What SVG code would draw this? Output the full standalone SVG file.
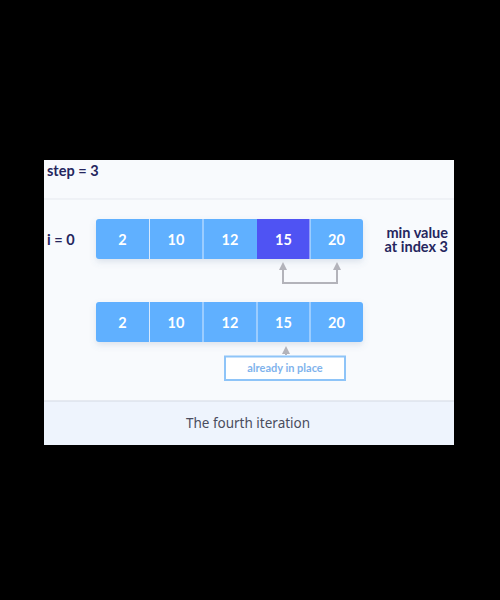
<svg xmlns="http://www.w3.org/2000/svg" width="500" height="600" viewBox="0 0 500 600">
<style>
.lbl{font-family:Lato,"Liberation Sans",sans-serif;font-weight:bold;font-size:14.5px;fill:#25265e}
.num{font-family:Lato,"Liberation Sans",sans-serif;font-weight:bold;font-size:14.5px;fill:#ffffff;text-anchor:middle}
.cell{fill:#60b0ff}
.sep{stroke:#d6e9ff;stroke-width:1}
.con{fill:none;stroke:#b3b3ba;stroke-width:2}
</style>
<defs>
<marker id="ah" viewBox="0 0 10 10" refX="5" refY="5" markerWidth="4" markerHeight="4" orient="auto-start-reverse">
<path d="M0,0 L10,5 L0,10 z" fill="#b3b3ba"/>
</marker>
<filter id="sh" x="-10%" y="-30%" width="120%" height="180%">
<feDropShadow dx="0" dy="3" stdDeviation="3" flood-color="#5a7aa0" flood-opacity="0.18"/>
</filter>
</defs>
<rect x="0" y="0" width="500" height="600" fill="#000000"/>
<rect x="44" y="160" width="410" height="285" fill="#f8fafd"/>
<rect x="44" y="401" width="410" height="44" fill="#eef4fd"/>
<line x1="44" y1="401" x2="454" y2="401" stroke="#d3d9e3" stroke-width="1"/>
<line x1="44" y1="199" x2="454" y2="199" stroke="#e6e9ef" stroke-width="1"/>
<text class="lbl" x="47" y="176">step = 3</text>
<text class="lbl" x="47" y="245">i = 0</text>
<text class="lbl" x="448" y="237.5" text-anchor="end">min value</text>
<text class="lbl" x="448" y="252" text-anchor="end">at index 3</text>
<g id="row1" filter="url(#sh)">
<rect class="cell" x="96" y="219" width="267" height="40" rx="3"/>
<rect x="257" y="219" width="53" height="40" fill="#4f53f3"/>
<line class="sep" x1="149.5" y1="219" x2="149.5" y2="259"/>
<line class="sep" x1="203" y1="219" x2="203" y2="259"/>
<line class="sep" x1="310" y1="219" x2="310" y2="259"/>
</g>
<g id="row1-text">
<text class="num" x="122.5" y="244.5">2</text>
<text class="num" x="176" y="244.5">10</text>
<text class="num" x="230" y="244.5">12</text>
<text class="num" x="283.5" y="244.5">15</text>
<text class="num" x="336.5" y="244.5">20</text>
</g>
<g id="row2" filter="url(#sh)">
<rect class="cell" x="96" y="302" width="267" height="40" rx="3"/>
<line class="sep" x1="149.5" y1="302" x2="149.5" y2="342"/>
<line class="sep" x1="203" y1="302" x2="203" y2="342"/>
<line class="sep" x1="257" y1="302" x2="257" y2="342"/>
<line class="sep" x1="310" y1="302" x2="310" y2="342"/>
</g>
<g id="row2-text">
<text class="num" x="122.5" y="327.5">2</text>
<text class="num" x="176" y="327.5">10</text>
<text class="num" x="230" y="327.5">12</text>
<text class="num" x="283.5" y="327.5">15</text>
<text class="num" x="336.5" y="327.5">20</text>
</g>
<g id="connectors">
<path class="con" d="M283,266 V283 H337 V266" marker-start="url(#ah)" marker-end="url(#ah)"/>
<path class="con" d="M286,355 V350" marker-end="url(#ah)"/>
</g>
<g id="already">
<rect x="225" y="356.5" width="120" height="23.5" fill="#ffffff" stroke="#8ec4f8" stroke-width="2"/>
<text x="285" y="372" text-anchor="middle" font-family="Lato,'Liberation Sans',sans-serif" font-weight="bold" font-size="11px" fill="#7fb3ec">already in place</text>
</g>
<text x="248" y="428" text-anchor="middle" font-family="'Noto Sans',sans-serif" font-size="13.5px" fill="#4a4d5e">The fourth iteration</text>
</svg>
